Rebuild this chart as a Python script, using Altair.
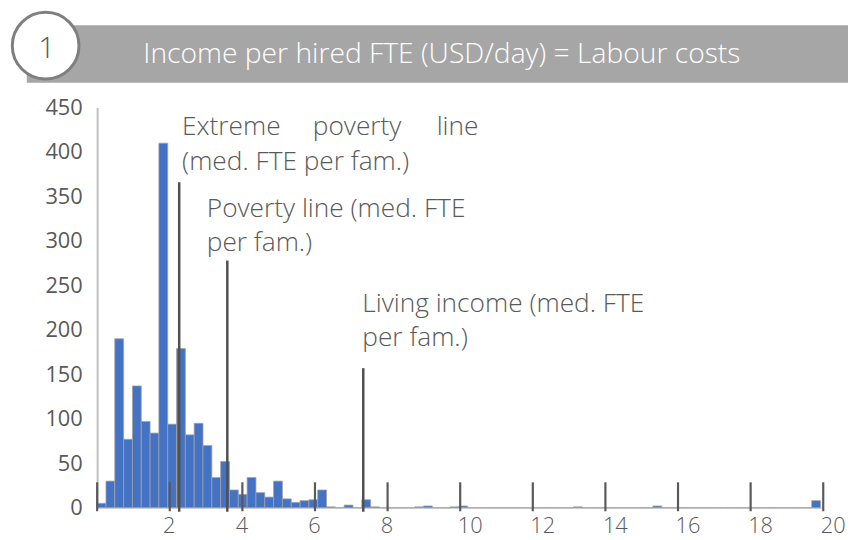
import altair as alt
import pandas as pd

# ---- data -------------------------------------------------------------
counts = [5, 30, 190, 77, 137, 97, 84, 410, 94, 179,
          82, 95, 70, 34, 52, 20, 15, 34, 17, 12,
          30, 10, 6, 8, 9, 20, 1, 0, 3, 0,
          9, 1, 0, 0, 0, 0, 1, 2, 0, 0,
          1, 2, 0, 0, 0, 0, 0, 0, 0, 0,
          0, 0, 0, 0, 1, 0, 0, 0, 0, 0,
          0, 0, 0, 2, 0, 0, 0, 0, 0, 0,
          0, 0, 0, 0, 0, 0, 0, 0, 0, 0,
          0, 8]
bin_width = 0.243

tick_values = [0, 2, 4, 6, 8, 10, 12, 14, 16, 18, 20]
y_ticks = [0, 50, 100, 150, 200, 250, 300, 350, 400, 450]

line_names = ["Extreme poverty line", "Poverty line", "Living income"]
line_x = [2.26, 3.585, 7.33]
line_top = [366, 278, 157]

ann_text = ["Extreme", "poverty", "line", "(med. FTE per fam.)",
            "Poverty line (med. FTE", "per fam.)",
            "Living income (med. FTE", "per fam.)"]
ann_x = [2.338, 5.94, 9.351, 2.338, 3.02, 3.02, 7.304, 7.304]
ann_y = [418.8, 418.8, 418.8, 379.8, 327.5, 288.5, 220.5, 181.6]

title_text = "Income per hired FTE (USD/day) = Labour costs"
badge_text = "1"

# ---- tables -----------------------------------------------------------
bars = pd.DataFrame({
    "x": [i * bin_width for i in range(len(counts))],
    "x2": [(i + 1) * bin_width for i in range(len(counts))],
    "count": counts,
})
ticks = pd.DataFrame({"x": tick_values})
lines = pd.DataFrame({"name": line_names, "x": line_x, "count": line_top})
ann = pd.DataFrame({"text": ann_text, "x": ann_x, "count": ann_y})
one = pd.DataFrame({"t": [title_text], "b": [badge_text]})

W, H = 733, 404
FONT = "Open Sans"
GREY = "#595959"

xscale = alt.Scale(domain=[0, 20], nice=False, zero=True)
yscale = alt.Scale(domain=[0, 450], nice=False)

xaxis = alt.Axis(
    values=tick_values, title=None, grid=False, ticks=False,
    labelExpr="datum.value == 0 ? '' : datum.label",
    labelFont=FONT, labelFontSize=22, labelFontWeight=300, labelColor=GREY,
    labelPadding=8,
    labelAlign={"condition": {"test": "datum.value >= 10", "value": "left"}, "value": "center"},
    labelOffset={"condition": {"test": "datum.value >= 10", "value": -3}, "value": -1},
    domain=True, domainColor="#d0d0d0", domainWidth=1,
)
yaxis = alt.Axis(
    values=y_ticks, title=None, grid=False, ticks=False,
    labelFont=FONT, labelFontSize=22, labelColor=GREY, labelPadding=15,
    domain=True, domainColor="#bfbfbf", domainWidth=2,
)

X = alt.X("x:Q", scale=xscale, axis=xaxis)
Y = alt.Y("count:Q", scale=yscale, axis=yaxis)

band = alt.Chart(one).mark_rect(color="#a6a6a6").encode(
    x=alt.value(-71), x2=alt.value(770), y=alt.value(-83), y2=alt.value(-25))
circle = alt.Chart(one).mark_circle(
    color="white", opacity=1, stroke="#7f7f7f", strokeWidth=3, size=4536
).encode(x=alt.value(-52), y=alt.value(-62.5))
badge = alt.Chart(one).mark_text(
    font=FONT, fontSize=30, fontWeight=300, color=GREY, align="center", baseline="alphabetic"
).encode(x=alt.value(-51), y=alt.value(-50), text="b:N")
title = alt.Chart(one).mark_text(
    font=FONT, fontSize=28.5, fontWeight=300, color="white", align="center", baseline="alphabetic"
).encode(x=alt.value(348), y=alt.value(-45), text="t:N")

bar_layer = alt.Chart(bars).mark_rect(
    color="#4472c4", stroke="#a0a0a0", strokeWidth=0.8
).encode(x=X, x2="x2:Q", y=Y, y2=alt.datum(0))

tick_layer = alt.Chart(ticks).mark_rule(color=GREY, strokeWidth=2.2).encode(
    x=X, y=alt.value(H - 25.7), y2=alt.value(H + 3.5))

line_layer = alt.Chart(lines).mark_rule(color="#505050", strokeWidth=2.5).encode(
    x=X, y=Y, y2=alt.value(H + 4))

ann_layer = alt.Chart(ann).mark_text(
    font=FONT, fontSize=26.5, fontWeight=300, color=GREY, align="left", baseline="alphabetic"
).encode(x=X, y=Y, text="text:N")

chart = alt.layer(
    band, circle, badge, title, bar_layer, tick_layer, line_layer, ann_layer
).properties(
    width=W, height=H,
    autosize=alt.AutoSizeParams(type="none"),
    padding={"left": 90, "top": 98, "right": 25, "bottom": 30},
).configure_view(stroke=None)

chart.save("out.html", embed_options={"renderer": "svg", "actions": False})
